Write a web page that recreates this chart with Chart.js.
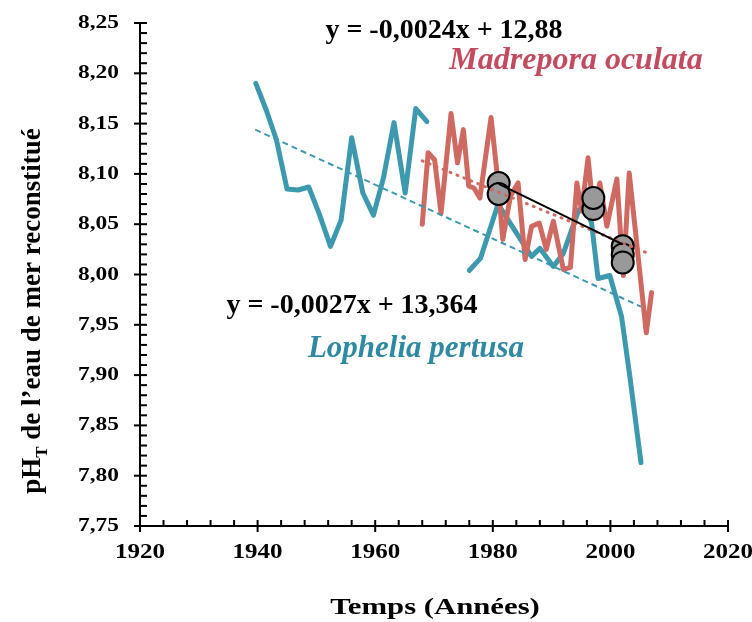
<!DOCTYPE html>
<html>
<head>
<meta charset="utf-8">
<script src="https://cdn.jsdelivr.net/npm/chart.js@4.4.1/dist/chart.umd.min.js"></script>
<style>
html, body { margin: 0; padding: 0; background: #fff; }
#wrap { width: 752px; height: 622px; }
</style>
</head>
<body>
<div id="wrap"><canvas id="canvas-ph"></canvas></div>
<script>
// Lophelia pertusa (null = gap between the two records)
var lopheliaYears = [1939.7, 1941.5, 1943.2, 1945.0, 1946.9, 1948.7, 1950.5, 1952.4, 1954.2, 1956.0, 1957.9, 1959.7, 1961.4, 1963.2, 1965.1, 1966.9, 1968.8,
    1972.0,
    1976.0, 1977.9, 1980.9, 1984.6, 1986.6, 1988.0, 1990.3, 1992.0, 1994.6, 1995.7, 1996.8, 1997.9, 1999.9, 2001.9, 2003.3, 2005.2];
var lopheliaPH = [8.190, 8.163, 8.134, 8.085, 8.084, 8.087, 8.060, 8.028, 8.054, 8.136, 8.081, 8.059, 8.096, 8.151, 8.081, 8.165, 8.152,
    null,
    8.004, 8.016, 8.070, 8.036, 8.018, 8.026, 8.008, 8.021, 8.064, 8.068, 8.051, 7.996, 7.999, 7.958, 7.899, 7.813];

// Madrepora oculata
var madreporaYears = [1968.0, 1969.0, 1970.1, 1971.2, 1972.9, 1974.0, 1975.0, 1975.9, 1976.8, 1977.8, 1979.7, 1980.9, 1981.7, 1983.0, 1984.3, 1985.5,
    1986.6, 1987.9, 1989.1, 1990.3, 1992.0, 1993.2, 1994.3, 1995.1, 1996.2, 1997.1, 1998.2, 1999.4, 2001.1, 2002.2, 2003.2, 2006.1, 2007.0];
var madreporaPH = [8.050, 8.121, 8.114, 8.061, 8.160, 8.111, 8.144, 8.088, 8.086, 8.076, 8.156, 8.091, 8.035, 8.078, 8.091, 8.015,
    8.048, 8.051, 8.025, 8.053, 8.005, 8.007, 8.091, 8.063, 8.116, 8.062, 8.091, 8.048, 8.095, 7.999, 8.101, 7.942, 7.982];

// grey markers
var markerYears = [1981.0, 1981.0, 1997.1, 1997.1, 2002.1, 2002.1, 2002.1];
var markerPH = [8.091, 8.080, 8.065, 8.076, 8.028, 8.020, 8.012];

// trend lines (end points)
var lopheliaTrendYears = [1939.6, 2005.2];
var lopheliaTrendPH = [8.144, 7.968];
var madreporaTrendYears = [1968.0, 2006.0];
var madreporaTrendPH = [8.113, 8.022];
var markerTrendYears = [1981.0, 2002.1];
var markerTrendPH = [8.090, 8.030];

var xTickValues = [1920, 1940, 1960, 1980, 2000, 2020];
var xTickLabels = ['1920', '1940', '1960', '1980', '2000', '2020'];
var yTickValues = [7.75, 7.80, 7.85, 7.90, 7.95, 8.00, 8.05, 8.10, 8.15, 8.20, 8.25];
var yTickLabels = ['7,75', '7,80', '7,85', '7,90', '7,95', '8,00', '8,05', '8,10', '8,15', '8,20', '8,25'];

var BLUE = '#3d99ae';
var RED = '#cf6a62';

function toPoints(xs, ys) {
    var pts = [];
    xs.forEach(function (x, i) {
        pts.push({x: x, y: ys[i]});
    });
    return pts;
}

function stretchText(ctx, text, x, y, sx, font, color, align) {
    ctx.save();
    ctx.translate(x, y);
    ctx.scale(sx, 1);
    ctx.font = font;
    ctx.fillStyle = color;
    ctx.textAlign = align;
    ctx.textBaseline = 'middle';
    ctx.fillText(text, 0, 0);
    ctx.restore();
}

var axisDecor = {
    id: 'axisDecor',
    afterDraw: function (chart) {
        var ctx = chart.ctx;
        var xs = chart.scales.x, ys = chart.scales.y;
        var area = chart.chartArea;
        var serif = "'Liberation Serif', 'Times New Roman', serif";
        ctx.save();
        ctx.strokeStyle = '#000';
        ctx.lineWidth = 2;
        // x ticks
        for (var v = 1920; v <= 2020; v += 4) {
            var px = xs.getPixelForValue(v);
            var major = (v % 20 === 0);
            ctx.beginPath();
            ctx.moveTo(px, area.bottom - 6);
            ctx.lineTo(px, area.bottom + (major ? 6 : 0));
            ctx.stroke();
        }
        // y ticks
        for (var i = 0; i <= 50; i++) {
            var val = 7.75 + i * 0.01;
            var py = ys.getPixelForValue(val);
            var maj = (i % 5 === 0);
            ctx.beginPath();
            ctx.moveTo(area.left - (maj ? 6 : 0), py);
            ctx.lineTo(area.left + 7, py);
            ctx.stroke();
        }
        ctx.restore();

        // tick labels
        xTickValues.forEach(function (v, i) {
            stretchText(ctx, xTickLabels[i], xs.getPixelForValue(v), 553, 1.25, 'bold 20px ' + serif, '#000', 'center');
        });
        yTickValues.forEach(function (v, i) {
            stretchText(ctx, yTickLabels[i], 119, ys.getPixelForValue(v), 1.2, 'bold 19.5px ' + serif, '#000', 'right');
        });

        // axis titles
        stretchText(ctx, 'Temps (Années)', 435, 608, 1.28, 'bold 24px ' + serif, '#000', 'center');

        ctx.save();
        ctx.translate(31, 311);
        ctx.rotate(-Math.PI / 2);
        ctx.fillStyle = '#000';
        ctx.textBaseline = 'alphabetic';
        ctx.textAlign = 'left';
        var big = 'bold 27px ' + serif, small = 'bold 17px ' + serif;
        var p1 = 'pH', p2 = 'T', p3 = ' de l\u2019eau de mer reconstitu\u00e9';
        ctx.font = big;
        var w1 = ctx.measureText(p1).width, w3 = ctx.measureText(p3).width;
        ctx.font = small;
        var w2 = ctx.measureText(p2).width;
        var start = -(w1 + w2 + w3) / 2;
        ctx.font = big;
        ctx.fillText(p1, start, 9);
        ctx.font = small;
        ctx.fillText(p2, start + w1, 16);
        ctx.font = big;
        ctx.fillText(p3, start + w1 + w2, 9);
        ctx.restore();

        // annotations
        stretchText(ctx, 'y = -0,0024x + 12,88', 444, 31, 1, 'bold 28px ' + serif, '#000', 'center');
        stretchText(ctx, 'Madrepora oculata', 576, 61, 1, 'italic bold 32px ' + serif, '#c24b60', 'center');
        stretchText(ctx, 'y = -0,0027x + 13,364', 352, 306, 1, 'bold 28px ' + serif, '#000', 'center');
        stretchText(ctx, 'Lophelia pertusa', 416, 349, 1, 'italic bold 31px ' + serif, '#2f89a0', 'center');
    }
};

var config = {
    type: 'line',
    data: {
        datasets: [{
            label: 'Tendance marqueurs',
            data: toPoints(markerTrendYears, markerTrendPH),
            borderColor: '#000',
            borderWidth: 2,
            pointRadius: 0,
            order: 1
        }, {
            label: 'Tendance Madrepora',
            data: toPoints(madreporaTrendYears, madreporaTrendPH),
            borderColor: RED,
            borderWidth: 3,
            borderDash: [1, 6.5],
            borderCapStyle: 'round',
            pointRadius: 0,
            order: 2
        }, {
            label: 'Tendance Lophelia',
            data: toPoints(lopheliaTrendYears, lopheliaTrendPH),
            borderColor: BLUE,
            borderWidth: 2,
            borderDash: [6, 4],
            pointRadius: 0,
            order: 3
        }, {
            label: 'Marqueurs',
            data: toPoints(markerYears, markerPH),
            showLine: false,
            pointRadius: 11,
            pointBackgroundColor: '#999999',
            pointBorderColor: '#000',
            pointBorderWidth: 2,
            order: 4
        }, {
            label: 'Madrepora oculata',
            data: toPoints(madreporaYears, madreporaPH),
            borderColor: RED,
            borderWidth: 5,
            borderJoinStyle: 'round',
            borderCapStyle: 'round',
            pointRadius: 0,
            order: 5
        }, {
            label: 'Lophelia pertusa',
            data: toPoints(lopheliaYears, lopheliaPH),
            borderColor: BLUE,
            borderWidth: 5,
            borderJoinStyle: 'round',
            borderCapStyle: 'round',
            pointRadius: 0,
            spanGaps: false,
            order: 6
        }]
    },
    options: {
        responsive: true,
        maintainAspectRatio: false,
        animation: false,
        layout: {padding: {left: 0, right: 24, top: 23, bottom: 0}},
        plugins: {legend: {display: false}, tooltip: {enabled: false}},
        scales: {
            x: {
                type: 'linear',
                min: 1920,
                max: 2020,
                grid: {display: false},
                ticks: {display: false},
                border: {color: '#000', width: 2},
                afterFit: function (scale) { scale.height = 96; }
            },
            y: {
                type: 'linear',
                min: 7.75,
                max: 8.25,
                grid: {display: false},
                ticks: {display: false},
                border: {color: '#000', width: 2},
                afterFit: function (scale) { scale.width = 140; }
            }
        }
    },
    plugins: [axisDecor]
};

window.phChart = new Chart(document.getElementById('canvas-ph'), config);
</script>
</body>
</html>
